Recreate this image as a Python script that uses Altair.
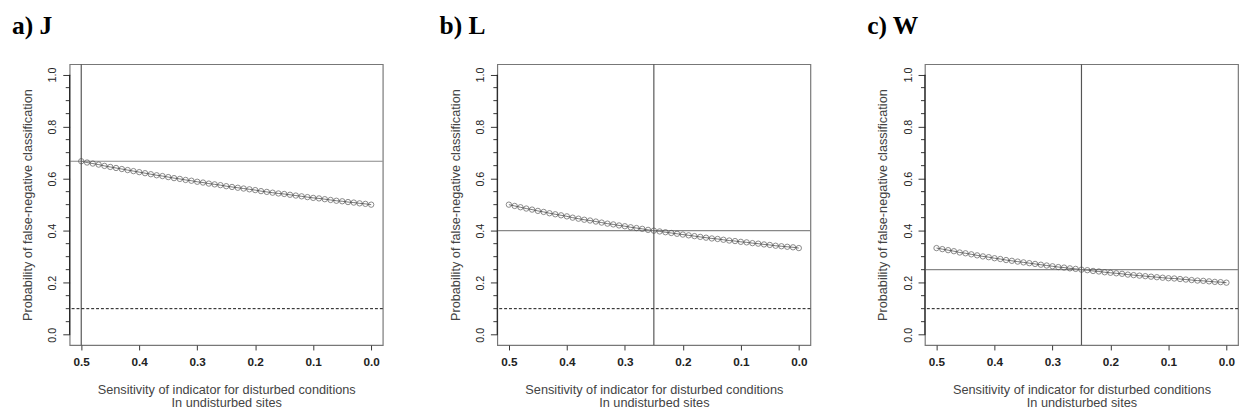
import altair as alt
import pandas as pd

sensitivity = [0.50, 0.49, 0.48, 0.47, 0.46, 0.45, 0.44, 0.43, 0.42, 0.41,
               0.40, 0.39, 0.38, 0.37, 0.36, 0.35, 0.34, 0.33, 0.32, 0.31,
               0.30, 0.29, 0.28, 0.27, 0.26, 0.25, 0.24, 0.23, 0.22, 0.21,
               0.20, 0.19, 0.18, 0.17, 0.16, 0.15, 0.14, 0.13, 0.12, 0.11,
               0.10, 0.09, 0.08, 0.07, 0.06, 0.05, 0.04, 0.03, 0.02, 0.01, 0.00]

prob_J = [0.667, 0.662, 0.658, 0.654, 0.649, 0.645, 0.641, 0.637, 0.633, 0.629,
          0.625, 0.621, 0.617, 0.613, 0.610, 0.606, 0.602, 0.599, 0.595, 0.592,
          0.588, 0.585, 0.581, 0.578, 0.575, 0.571, 0.568, 0.565, 0.562, 0.559,
          0.556, 0.552, 0.549, 0.546, 0.543, 0.541, 0.538, 0.535, 0.532, 0.529,
          0.526, 0.524, 0.521, 0.518, 0.515, 0.513, 0.510, 0.508, 0.505, 0.503, 0.500]

prob_L = [0.500, 0.495, 0.490, 0.485, 0.481, 0.476, 0.472, 0.467, 0.463, 0.459,
          0.455, 0.450, 0.446, 0.442, 0.439, 0.435, 0.431, 0.427, 0.424, 0.420,
          0.417, 0.413, 0.410, 0.407, 0.403, 0.400, 0.397, 0.394, 0.391, 0.388,
          0.385, 0.382, 0.379, 0.376, 0.373, 0.370, 0.368, 0.365, 0.362, 0.360,
          0.357, 0.355, 0.352, 0.350, 0.347, 0.345, 0.342, 0.340, 0.338, 0.336, 0.333]

prob_W = [0.333, 0.329, 0.325, 0.321, 0.316, 0.313, 0.309, 0.305, 0.301, 0.298,
          0.294, 0.291, 0.287, 0.284, 0.281, 0.278, 0.275, 0.272, 0.269, 0.266,
          0.263, 0.260, 0.258, 0.255, 0.253, 0.250, 0.248, 0.245, 0.243, 0.240,
          0.238, 0.236, 0.234, 0.231, 0.229, 0.227, 0.225, 0.223, 0.221, 0.219,
          0.217, 0.216, 0.214, 0.212, 0.210, 0.208, 0.207, 0.205, 0.203, 0.202, 0.200]

panel_titles = ["a) J", "b) L", "c) W"]
series = [prob_J, prob_L, prob_W]
vline_x = [0.5, 0.25, 0.25]
hline_y = [0.667, 0.4, 0.25]
threshold = 0.1

x_ticks = [0.5, 0.4, 0.3, 0.2, 0.1, 0.0]
y_ticks = [0.0, 0.2, 0.4, 0.6, 0.8, 1.0]
y_minor = [0.05, 0.1, 0.15, 0.25, 0.3, 0.35, 0.45, 0.5, 0.55, 0.65, 0.7, 0.75, 0.85, 0.9, 0.95]

x_domain = [0.52, -0.02]
y_domain = [-0.04, 1.04]

FONT = "Liberation Sans"
W, H = 320, 287


def panel(i):
    df = pd.DataFrame({"s": sensitivity, "p": series[i]})
    xs = alt.Scale(domain=x_domain, nice=False, zero=False)
    ys = alt.Scale(domain=y_domain, nice=False, zero=False)
    xenc = alt.X("s:Q", scale=xs,
                 axis=alt.Axis(values=x_ticks, format=".1f", domain=False, grid=False,
                               tickSize=5, tickColor="#333", labelPadding=7,
                               labelFont=FONT, labelFontSize=12, labelColor="#222",
                               labelFontWeight="bold",
                               title=["Sensitivity of indicator for disturbed conditions",
                                      "In undisturbed sites"],
                               titleFont=FONT, titleFontSize=13, titleFontWeight="normal",
                               titleColor="#444", titlePadding=16, titleLineHeight=14))
    yenc = alt.Y("p:Q", scale=ys,
                 axis=alt.Axis(values=y_ticks, format=".1f", domain=False, grid=False,
                               tickSize=7, tickColor="#333", labelAngle=270,
                               labelAlign="center", labelBaseline="bottom", labelPadding=5,
                               labelFont=FONT, labelFontSize=11, labelColor="#222",
                               title="Probability of false-negative classification",
                               titleFont=FONT, titleFontSize=13, titleFontWeight="normal",
                               titleColor="#444", titlePadding=13))
    base = alt.Chart(df)
    line = base.mark_line(color="#555", strokeWidth=0.8).encode(x=xenc, y=yenc)
    pts = base.mark_point(shape="circle", filled=False, size=30, color="#444",
                          strokeWidth=0.9).encode(x=alt.X("s:Q", scale=xs), y=alt.Y("p:Q", scale=ys))
    minor = alt.Chart(pd.DataFrame({"v": y_minor})).mark_rule(color="#333", strokeWidth=1).encode(
        x=alt.value(-4), x2=alt.value(0), y=alt.Y("v:Q", scale=ys))
    axisline = alt.Chart(pd.DataFrame({"a": [0.0], "b": [1.0]})).mark_rule(
        color="#222", strokeWidth=1.2).encode(
        x=alt.value(0), y=alt.Y("a:Q", scale=ys), y2="b:Q")
    hl = alt.Chart(pd.DataFrame({"h": [hline_y[i]]})).mark_rule(
        color="#888", strokeWidth=1.2).encode(y=alt.Y("h:Q", scale=ys))
    vl = alt.Chart(pd.DataFrame({"v": [vline_x[i]]})).mark_rule(
        color="#555", strokeWidth=1.2).encode(x=alt.X("v:Q", scale=xs))
    dl = alt.Chart(pd.DataFrame({"t": [threshold]})).mark_rule(
        color="#111", strokeWidth=1, strokeDash=[3, 2]).encode(y=alt.Y("t:Q", scale=ys))
    return alt.layer(line, hl, vl, dl, minor, axisline, pts).properties(
        width=W, height=H,
        title=alt.TitleParams(panel_titles[i], anchor="start", font="Liberation Serif",
                              fontSize=26, fontWeight="bold", color="#000",
                              dx=-10, offset=25))


chart = alt.hconcat(panel(0), panel(1), panel(2), spacing=55).properties(
    padding={"left": 3, "top": 0, "right": 0, "bottom": 0}
).configure_view(stroke="#777", strokeWidth=1.2)

chart.save("out.html", embed_options={"renderer": "svg", "actions": False})
